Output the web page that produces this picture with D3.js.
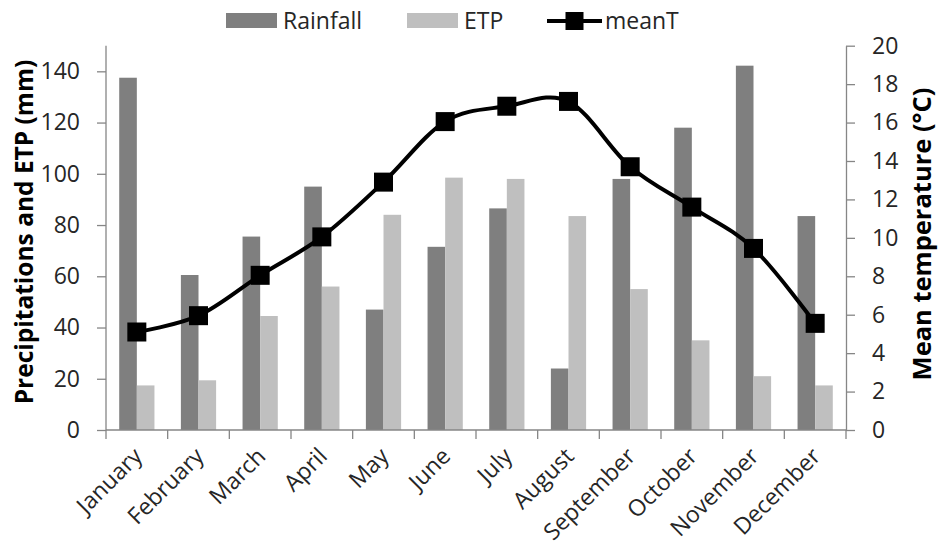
<!DOCTYPE html>
<html>
<head>
<meta charset="utf-8">
<script src="https://cdn.jsdelivr.net/npm/d3@7"></script>
<style>
  body { margin: 0; background: #fff; }
  svg { display: block; }
  text { font-family: "Open Sans", "Liberation Sans", sans-serif; }
</style>
</head>
<body>
<svg id="chart" width="940" height="552"></svg>
<script>
// ---- data ----
const months = ["January","February","March","April","May","June","July","August","September","October","November","December"];
const rainfall = [137.5, 60.5, 75.5, 95, 47, 71.5, 86.5, 24, 98, 118, 142.2, 83.5];
const etp = [17.4, 19.4, 44.5, 56, 84, 98.5, 98, 83.5, 55, 35, 21, 17.4];
const meanT = [5.1, 5.95, 8.05, 10.05, 12.9, 16.05, 16.85, 17.1, 13.7, 11.6, 9.45, 5.55];
const leftTicks = [0, 20, 40, 60, 80, 100, 120, 140];
const rightTicks = [0, 2, 4, 6, 8, 10, 12, 14, 16, 18, 20];
const seriesNames = ["Rainfall", "ETP", "meanT"];
const colors = { rain: "#7f7f7f", etp: "#bfbfbf", line: "#000000", axis: "#868686", text: "#262626" };

// ---- layout ----
const plot = { left: 106, right: 846, top: 45.7, bottom: 430 };
const svg = d3.select("#chart");
svg.append("rect").attr("width", 940).attr("height", 552).attr("fill", "#fff");

const x = d3.scaleBand().domain(months).range([plot.left, plot.right]).paddingInner(0).paddingOuter(0);
const yL = d3.scaleLinear().domain([0, 150]).range([plot.bottom, plot.top]);
const yR = d3.scaleLinear().domain([0, 20]).range([plot.bottom, plot.top]);

const bw = x.bandwidth();
const barW = bw / 3.5;         // gap width 150%
const pad = barW * 0.75;

// ---- bars ----
const g = svg.append("g");
g.selectAll("rect.rain").data(months).join("rect")
  .attr("class", "rain")
  .attr("x", d => x(d) + pad)
  .attr("width", barW)
  .attr("y", (d, i) => yL(rainfall[i]))
  .attr("height", (d, i) => yL(0) - yL(rainfall[i]))
  .attr("fill", colors.rain);
g.selectAll("rect.etp").data(months).join("rect")
  .attr("class", "etp")
  .attr("x", d => x(d) + pad + barW)
  .attr("width", barW)
  .attr("y", (d, i) => yL(etp[i]))
  .attr("height", (d, i) => yL(0) - yL(etp[i]))
  .attr("fill", colors.etp);

// ---- axes ----
const axisStyle = sel => {
  sel.selectAll(".domain").attr("stroke", colors.axis).attr("stroke-width", 1.3);
  sel.selectAll(".tick line").attr("stroke", colors.axis).attr("stroke-width", 1.3);
  sel.selectAll(".tick text").attr("fill", colors.text).style("font-size", "23px");
};

const axL = svg.append("g").attr("transform", `translate(${plot.left},0)`)
  .call(d3.axisLeft(yL).tickValues(leftTicks).tickSize(9).tickSizeOuter(0).tickPadding(17))
  .call(axisStyle);
axL.select(".domain").attr("d", `M0,${plot.top}V${plot.bottom}`);

const axR = svg.append("g").attr("transform", `translate(${plot.right},0)`)
  .call(d3.axisRight(yR).tickValues(rightTicks).tickSize(9).tickSizeOuter(0).tickPadding(17))
  .call(axisStyle);

// x axis: ticks at band boundaries
const axX = svg.append("g").attr("transform", `translate(0,${plot.bottom})`);
axX.append("line").attr("x1", plot.left).attr("x2", plot.right).attr("y1", 0).attr("y2", 0)
  .attr("stroke", colors.axis).attr("stroke-width", 1.3);
const bounds = months.map(m => x(m)).concat([plot.right]);
axX.selectAll("line.tk").data(bounds).join("line").attr("class", "tk")
  .attr("x1", d => d).attr("x2", d => d).attr("y1", 0).attr("y2", 9)
  .attr("stroke", colors.axis).attr("stroke-width", 1.3);
axX.selectAll("text").data(months).join("text")
  .attr("transform", d => `translate(${x(d) + bw / 2 + 1},${22}) rotate(-45)`)
  .attr("text-anchor", "end")
  .attr("dy", "0.35em")
  .attr("fill", colors.text)
  .style("font-size", "23px")
  .text(d => d);

// ---- line ----
const lineGen = d3.line()
  .x((d, i) => x(months[i]) + bw / 2)
  .y(d => yR(d))
  .curve(d3.curveCatmullRom.alpha(0));
svg.append("path").datum(meanT)
  .attr("d", lineGen)
  .attr("fill", "none")
  .attr("stroke", colors.line)
  .attr("stroke-width", 4);
const ms = 19;
svg.selectAll("rect.mk").data(meanT).join("rect").attr("class", "mk")
  .attr("x", (d, i) => x(months[i]) + bw / 2 - ms / 2)
  .attr("y", d => yR(d) - ms / 2)
  .attr("width", ms).attr("height", ms)
  .attr("fill", colors.line);

// ---- axis titles ----
svg.append("text")
  .attr("transform", `translate(33,232) rotate(-90)`)
  .attr("text-anchor", "middle")
  .style("font-size", "24.5px").style("font-weight", "bold")
  .attr("fill", "#000")
  .text("Precipitations and ETP (mm)");
svg.append("text")
  .attr("transform", `translate(931,234) rotate(-90)`)
  .attr("text-anchor", "middle")
  .style("font-size", "25.5px").style("font-weight", "bold")
  .attr("fill", "#000")
  .text("Mean temperature (°C)");

// ---- legend ----
const lg = svg.append("g");
const legendItems = [
  { name: seriesNames[0], type: "bar", color: colors.rain, x: 226 },
  { name: seriesNames[1], type: "bar", color: colors.etp, x: 407 },
  { name: seriesNames[2], type: "line", color: colors.line, x: 547 }
];
legendItems.forEach(it => {
  if (it.type === "bar") {
    lg.append("rect").attr("x", it.x).attr("y", 13).attr("width", 51).attr("height", 15).attr("fill", it.color);
    lg.append("text").attr("x", it.x + 57).attr("y", 29).style("font-size", "23px").attr("fill", colors.text).text(it.name);
  } else {
    lg.append("line").attr("x1", it.x).attr("x2", it.x + 55).attr("y1", 21).attr("y2", 21)
      .attr("stroke", it.color).attr("stroke-width", 4);
    lg.append("rect").attr("x", it.x + 27.5 - 9).attr("y", 12).attr("width", 18).attr("height", 18).attr("fill", it.color);
    lg.append("text").attr("x", it.x + 58).attr("y", 29).style("font-size", "23px").attr("fill", colors.text).text(it.name);
  }
});
</script>
</body>
</html>
